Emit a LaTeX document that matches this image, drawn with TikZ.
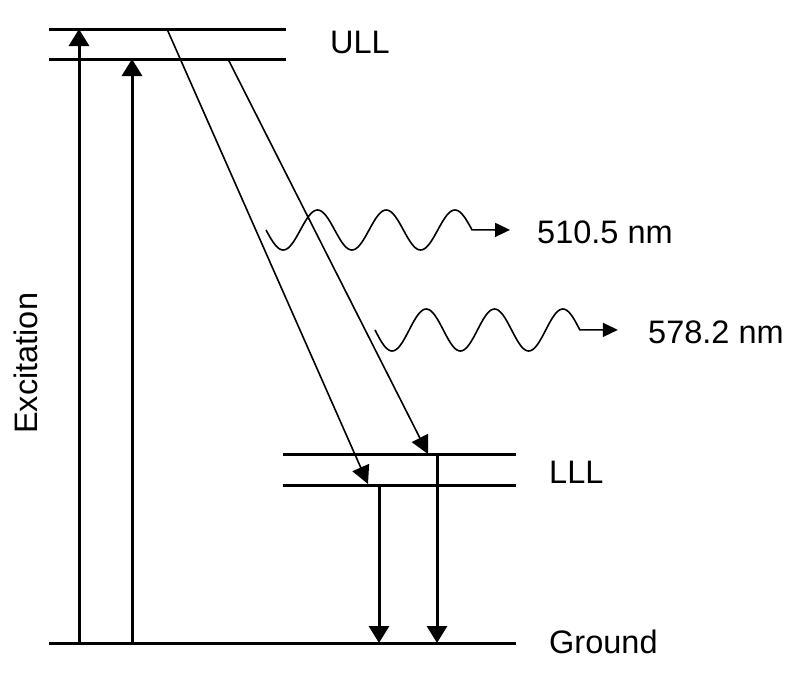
\documentclass[tikz,border=0pt]{standalone}
\usepackage{fontspec}
\setmainfont{Liberation Sans}
\usetikzlibrary{arrows.meta}

\begin{document}
\begin{tikzpicture}[x=1pt, y=-1pt, every node/.style={font=\fontsize{32.5}{38}\selectfont, inner sep=0pt, anchor=base west},
    level/.style={line width=3pt},
    pump/.style={line width=3pt, -{Triangle[length=17pt,width=20pt]}},
    decay/.style={line width=1.6pt, -{Triangle[length=18pt,width=18pt]}},
    photon/.style={line width=1.6pt, -{Triangle[length=15pt,width=14pt]}}]
    \useasboundingbox (0,0) rectangle (808,680);
    % energy levels
    \draw[level] (49,29) -- (286,29) (49,59) -- (286,59);
    \draw[level] (283,454) -- (516,454) (283,485) -- (516,485);
    \draw[level] (49,643) -- (516,643);
    \node (ull) at (330,53) {ULL};
    \node (lll) at (549,483) {LLL};
    \node (gnd) at (549,653) {Ground};
    \node[rotate=90] (exc) at (37,434) {Excitation};
    % arrow ends on the levels
    \coordinate (g1) at (79,643); \coordinate (g2) at (132,643);
    \coordinate (g3) at (379,643); \coordinate (g4) at (437,643);
    \coordinate (u1) at (79,29); \coordinate (u2) at (132,59);
    \coordinate (u3) at (167,29); \coordinate (u4) at (228,59);
    \coordinate (l1) at (368,484); \coordinate (l2) at (428,454);
    \coordinate (l3) at (379,485); \coordinate (l4) at (437,454);
    \draw[pump] (g1) -- (u1);
    \draw[pump] (g2) -- (u2);
    \draw[decay] (u3) -- (l1);
    \draw[decay] (u4) -- (l2);
    \draw[pump] (l3) -- (g3);
    \draw[pump] (l4) -- (g4);
    % emitted photons
    \draw[photon] plot[domain=0:3, samples=121, smooth] ({266+68.7*\x}, {230+20*sin(360*\x)}) -- ++(38,0);
    \draw[photon] plot[domain=0:3, samples=121, smooth] ({375+68.3*\x}, {330+21*sin(360*\x)}) -- ++(38,0);
    \node (w1) at (537,243) {510.5 nm};
    \node (w2) at (648,343) {578.2 nm};
\end{tikzpicture}
\end{document}
